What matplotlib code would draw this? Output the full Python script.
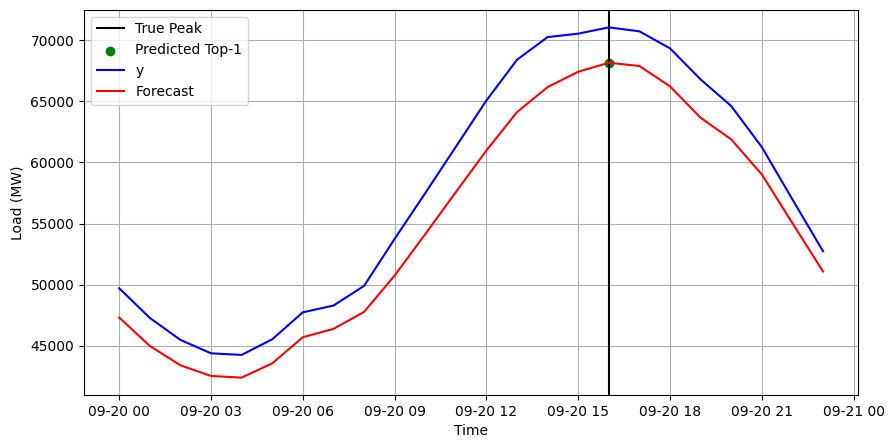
import pandas as pd
import numpy as np
import matplotlib
matplotlib.use('Agg')
import matplotlib.pyplot as plt

# hourly timestamps for one day
times = pd.date_range('2023-09-20 00:00', periods=24, freq='h')

y_actual = [49700, 47270, 45470, 44370, 44240, 45520, 47730, 48280,
            49890, 53745, 57490, 61285, 65080, 68415, 70270, 70550,
            71065, 70740, 69345, 66800, 64620, 61260, 56970, 52730]

forecast = [47300, 44975, 43390, 42516, 42380, 43550, 45690, 46370,
            47760, 50740, 54130, 57570, 60985, 64126, 66175, 67430,
            68170, 67900, 66230, 63660, 61890, 59020, 55030, 51070]

true_peak = int(np.argmax(y_actual))
pred_top1 = int(np.argmax(forecast))

fig, ax = plt.subplots(figsize=(8.94, 4.48), dpi=100)
fig.subplots_adjust(left=0.094, right=0.96, top=0.978, bottom=0.118)

h1 = ax.axvline(times[true_peak], color='black', label='True Peak')
h2 = ax.scatter([times[pred_top1]], [forecast[pred_top1]], color='green',
                label='Predicted Top-1')
h3, = ax.plot(times, y_actual, color='blue', label='y')
h4, = ax.plot(times, forecast, color='red', label='Forecast')

ax.set_xlabel('Time')
ax.set_ylabel('Load (MW)')
ax.grid(True)
ax.legend(handles=[h1, h2, h3, h4], loc='upper left')

plt.savefig('out.png')
